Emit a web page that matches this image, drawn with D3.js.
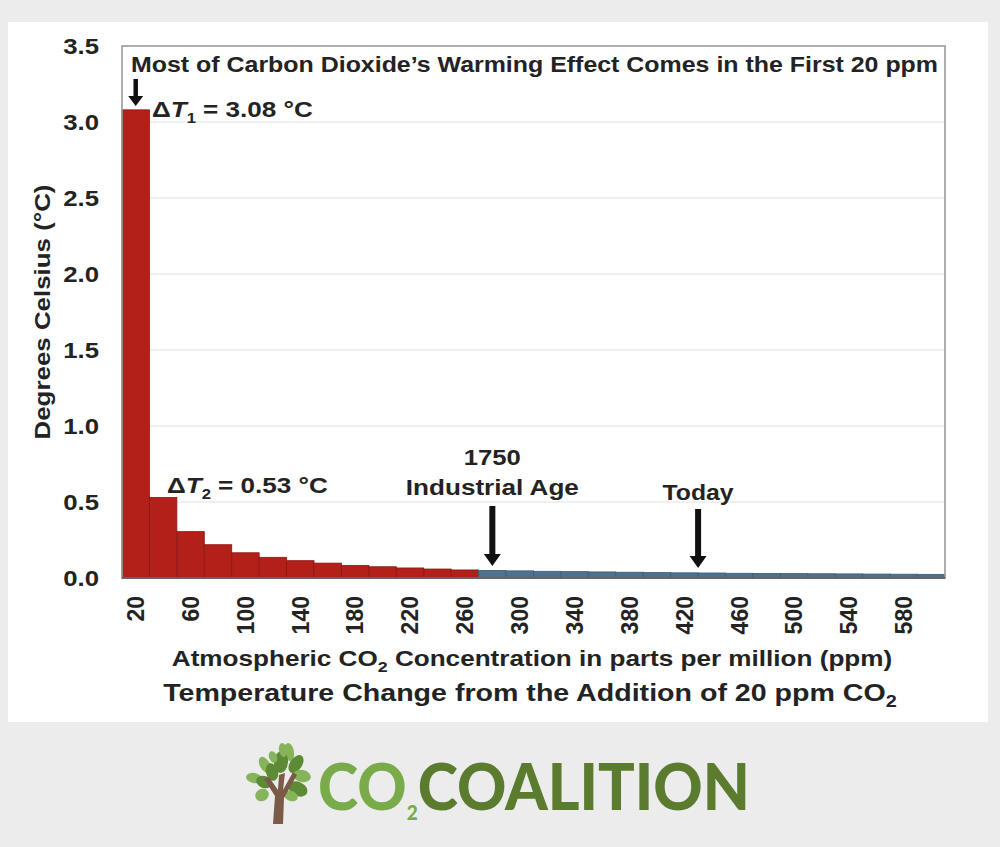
<!DOCTYPE html>
<html><head><meta charset="utf-8">
<script src="https://cdn.jsdelivr.net/npm/d3@7"></script>
<style>
html,body{margin:0;padding:0;background:#ececec;}
svg{display:block;}
text{font-family:"Liberation Sans",Arial,sans-serif;font-weight:bold;fill:#232323;}
</style></head>
<body>
<svg id="c" width="1000" height="847"></svg>
<script>
// ---- data ----
const ppm = [20,40,60,80,100,120,140,160,180,200,220,240,260,280,300,320,340,360,380,400,420,440,460,480,500,520,540,560,580,600];
const deltaT = [3.08,0.53,0.305,0.219,0.166,0.136,0.114,0.098,0.083,0.074,0.066,0.059,0.053,0.050,0.047,0.044,0.042,0.040,0.038,0.036,0.034,0.033,0.031,0.030,0.029,0.028,0.027,0.026,0.025,0.024];
const xTickLabels = [20,60,100,140,180,220,260,300,340,380,420,460,500,540,580];
const yTicks = [0,0.5,1.0,1.5,2.0,2.5,3.0,3.5];
const preIndustrialMax = 260;
const industrialPpm = 280;
const todayPpm = 430;
const annotations = {dt1: "3.08", dt2: "0.53"};

const svg = d3.select("#c");
svg.append("rect").attr("x",8).attr("y",22).attr("width",980).attr("height",700).attr("fill","#ffffff");

const L=122,R=945,T=46,B=578;
const x = d3.scaleBand().domain(ppm).range([L,R]).paddingInner(0).paddingOuter(0);
const xl = d3.scaleLinear().domain([10,610]).range([L,R]);
const y = d3.scaleLinear().domain([0,3.5]).range([B,T]);

// horizontally stretch a text to a target width, keeping its anchor
function fitWidth(sel, w, anchorX){
  const n = sel.node(); const bb = n.getBBox();
  const s = w / bb.width;
  const ax = anchorX;
  sel.attr("transform", `translate(${ax},0) scale(${s},1) translate(${-ax},0)`);
  return sel;
}

// gridlines
svg.append("g").selectAll("line").data(yTicks.slice(1,-1)).join("line")
  .attr("x1",L).attr("x2",R).attr("y1",d=>y(d)).attr("y2",d=>y(d))
  .attr("stroke","#e2e2e2").attr("stroke-width",1.2);

// bars
svg.append("g").selectAll("rect").data(ppm.map((p,i)=>({p,v:deltaT[i]}))).join("rect")
  .attr("x",d=>x(d.p)).attr("width",x.bandwidth())
  .attr("y",d=>y(d.v)).attr("height",d=>B-y(d.v))
  .attr("fill",d=>d.p<=preIndustrialMax?"#b31f19":"#4d7290")
  .attr("stroke",d=>d.p<=preIndustrialMax?"#8e1611":"#3b5c78").attr("stroke-width",0.8);

// frame
svg.append("rect").attr("x",L).attr("y",T).attr("width",R-L).attr("height",B-T)
  .attr("fill","none").attr("stroke","#9a9a9a").attr("stroke-width",1.6);
svg.append("line").attr("x1",L).attr("x2",R).attr("y1",B).attr("y2",B).attr("stroke","#555").attr("stroke-width",1.5);

// y axis
const yAxis = d3.axisLeft(y).tickValues(yTicks).tickFormat(d3.format(".1f")).tickSize(0).tickPadding(0);
const gy = svg.append("g").attr("transform",`translate(99,0)`).call(yAxis);
gy.select(".domain").remove();
gy.selectAll("text").attr("font-size",23).attr("fill","#232323").attr("font-family",'"Liberation Sans",Arial,sans-serif').attr("font-weight","bold")
  .attr("transform","scale(1.12,1)").attr("x",0);

// x axis
const xAxis = d3.axisBottom(x).tickValues(xTickLabels).tickSize(0).tickPadding(0);
const gx = svg.append("g").attr("transform",`translate(0,${B})`).call(xAxis);
gx.select(".domain").remove();
gx.selectAll("text").attr("font-size",23).attr("fill","#232323")
  .attr("font-family",'"Liberation Sans",Arial,sans-serif').attr("font-weight","bold")
  .attr("text-anchor","end").attr("transform","translate(0,18) rotate(-90)")
  .attr("x",0).attr("y",0).attr("dy","0.36em");

// titles
svg.append("text").attr("x",131).attr("y",72).attr("font-size",22)
  .attr("textLength",807).attr("lengthAdjust","spacingAndGlyphs")
  .text("Most of Carbon Dioxide\u2019s Warming Effect Comes in the First 20 ppm");

svg.append("text").attr("transform","translate(50,312) rotate(-90)").attr("text-anchor","middle")
  .attr("font-size",22).attr("textLength",255).attr("lengthAdjust","spacingAndGlyphs")
  .text("Degrees Celsius (\u00B0C)");

const t1 = svg.append("text").attr("x",532).attr("y",666).attr("text-anchor","middle").attr("font-size",22);
t1.append("tspan").text("Atmospheric CO");
t1.append("tspan").attr("font-size",15).attr("dy",6).text("2");
t1.append("tspan").attr("dy",-6).text(" Concentration in parts per million (ppm)");
fitWidth(t1, 721, 532);

const t2 = svg.append("text").attr("x",530).attr("y",701).attr("text-anchor","middle").attr("font-size",23);
t2.append("tspan").text("Temperature Change from the Addition of 20 ppm CO");
t2.append("tspan").attr("font-size",16).attr("dy",6).text("2");
fitWidth(t2, 734, 530);

// delta T annotations
function deltaLabel(xp, yp, sub, val, w){
  const t = svg.append("text").attr("x",xp).attr("y",yp).attr("font-size",22);
  t.append("tspan").text("\u0394");
  t.append("tspan").attr("font-style","italic").text("T");
  t.append("tspan").attr("font-size",14).attr("dy",6).text(sub);
  t.append("tspan").attr("dy",-6).text(" = " + val + " \u00B0C");
  fitWidth(t, w, xp);
}
deltaLabel(152,117,"1",annotations.dt1,161);
deltaLabel(167,493,"2",annotations.dt2,161);

// arrows
function arrow(cx, y0, y1, shaft, head, headLen){
  svg.append("path")
    .attr("d",`M${cx-shaft/2},${y0} L${cx+shaft/2},${y0} L${cx+shaft/2},${y1-headLen} L${cx+head/2},${y1-headLen} L${cx},${y1} L${cx-head/2},${y1-headLen} L${cx-shaft/2},${y1-headLen} Z`)
    .attr("fill","#111");
}
arrow(xl(20),79,106,4.5,15,10);
arrow(xl(industrialPpm),506,566,6,17,12);
arrow(xl(todayPpm),509,568,6,17,12);

const a1 = svg.append("text").attr("x",xl(industrialPpm)).attr("y",465).attr("text-anchor","middle").attr("font-size",22).text("1750");
fitWidth(a1, 57, xl(industrialPpm));
svg.append("text").attr("x",xl(industrialPpm)).attr("y",495).attr("text-anchor","middle").attr("font-size",22)
  .attr("textLength",173).attr("lengthAdjust","spacingAndGlyphs").text("Industrial Age");
const a3 = svg.append("text").attr("x",xl(todayPpm)).attr("y",500).attr("text-anchor","middle").attr("font-size",22).text("Today");
fitWidth(a3, 72, xl(todayPpm));

// logo
const logo = svg.append("g");
const tree = logo.append("g");
const leaves = [
  [289,752,5,9,-10,"#86b45a"],[281,762,7,11,5,"#5d8a35"],[296,764,6,10,35,"#5d8a35"],
  [265,765,5,9,-30,"#86b45a"],[272,772,6,9,-15,"#5d8a35"],[302,776,9,6,10,"#86b45a"],
  [254,778,8,5,10,"#86b45a"],[264,782,8,6,20,"#5d8a35"],[298,789,10,7,25,"#5d8a35"],
  [262,795,7,6,-30,"#86b45a"],[291,796,7,5,20,"#86b45a"],[283,750,4,7,-10,"#86b45a"],
  [273,757,4,6,-20,"#86b45a"]
];
tree.selectAll("ellipse").data(leaves).join("ellipse")
  .attr("cx",d=>d[0]).attr("cy",d=>d[1]).attr("rx",d=>d[2]).attr("ry",d=>d[3])
  .attr("transform",d=>`rotate(${d[4]},${d[0]},${d[1]})`).attr("fill",d=>d[5]);
tree.append("path")
  .attr("d","M273,824 L275,796 L264,779 L269,777 L278,790 L279,775 L285,773 L283,790 L293,772 L297,775 L284,798 L283,824 Z")
  .attr("fill","#7b5a47");

const logoFont = "Lato, 'Open Sans', sans-serif";
const lt = logo.append("text").attr("x",318).attr("y",810).style("font-family",logoFont).style("font-weight","900").attr("font-size",64);
lt.append("tspan").style("fill","#7aab4b").text("CO");
lt.append("tspan").attr("dy",10).attr("font-size",20).style("fill","#7aab4b").text("2");
lt.append("tspan").attr("dy",-10).style("fill","#5b7b2f").text("COALITION");
fitWidth(lt, 432, 318);
</script>
</body></html>
